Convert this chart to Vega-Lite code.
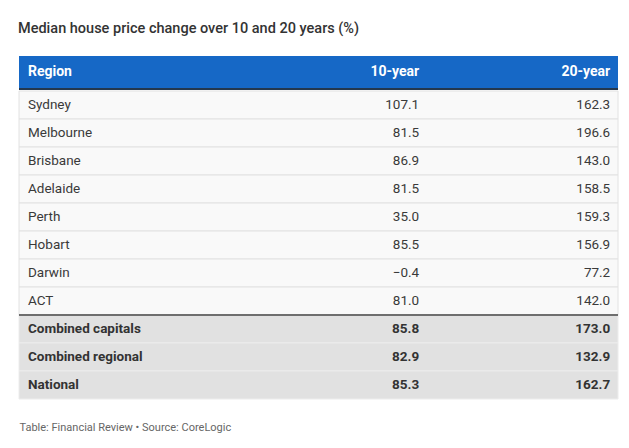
{
  "$schema": "https://vega.github.io/schema/vega-lite/v6.json",
  "padding": {"left": 18, "right": 12, "top": 20, "bottom": 10},
  "background": "white",
  "title": {"text": "Median house price change over 10 and 20 years (%)", "anchor": "start", "font": "Roboto", "fontSize": 14.5, "fontWeight": 500, "color": "#333333", "offset": 20},
  "config": {"view": {"stroke": null}, "font": "Roboto"},
  "spacing": 0,
  "vconcat": [
    {
      "width": 599,
      "height": 34,
      "data": {"values": [{"h1": "Region", "h2": "10-year", "h3": "20-year"}]},
      "layer": [
        {"mark": {"type": "rect", "color": "#1668c6"}, "encoding": {"x": {"datum": 0, "type": "quantitative", "scale": {"domain": [0, 1]}, "axis": null}, "x2": {"datum": 1}, "y": {"datum": 0.06, "type": "quantitative", "scale": {"domain": [0, 1]}, "axis": null}, "y2": {"datum": 1}}},
        {"mark": {"type": "rect", "color": "#24384e"}, "encoding": {"x": {"datum": 0, "type": "quantitative"}, "x2": {"datum": 1}, "y": {"datum": 0, "type": "quantitative"}, "y2": {"datum": 0.06}}},
        {"mark": {"type": "text", "align": "left", "baseline": "middle", "color": "white", "fontWeight": "bold", "fontSize": 14}, "encoding": {"x": {"datum": 0.015, "type": "quantitative"}, "y": {"datum": 0.53, "type": "quantitative"}, "text": {"field": "h1"}}},
        {"mark": {"type": "text", "align": "right", "baseline": "middle", "color": "white", "fontWeight": "bold", "fontSize": 14}, "encoding": {"x": {"datum": 0.668, "type": "quantitative"}, "y": {"datum": 0.53, "type": "quantitative"}, "text": {"field": "h2"}}},
        {"mark": {"type": "text", "align": "right", "baseline": "middle", "color": "white", "fontWeight": "bold", "fontSize": 14}, "encoding": {"x": {"datum": 0.987, "type": "quantitative"}, "y": {"datum": 0.53, "type": "quantitative"}, "text": {"field": "h3"}}}
      ]
    },
    {
      "width": 599,
      "height": 308,
      "data": {"values": [
        {"region": "Sydney", "ten": 107.1, "twenty": 162.3, "kind": "city"},
        {"region": "Melbourne", "ten": 81.5, "twenty": 196.6, "kind": "city"},
        {"region": "Brisbane", "ten": 86.9, "twenty": 143.0, "kind": "city"},
        {"region": "Adelaide", "ten": 81.5, "twenty": 158.5, "kind": "city"},
        {"region": "Perth", "ten": 35.0, "twenty": 159.3, "kind": "city"},
        {"region": "Hobart", "ten": 85.5, "twenty": 156.9, "kind": "city"},
        {"region": "Darwin", "ten": -0.4, "twenty": 77.2, "kind": "city"},
        {"region": "ACT", "ten": 81.0, "twenty": 142.0, "kind": "city"},
        {"region": "Combined capitals", "ten": 85.8, "twenty": 173.0, "kind": "summary"},
        {"region": "Combined regional", "ten": 82.9, "twenty": 132.9, "kind": "summary"},
        {"region": "National", "ten": 85.3, "twenty": 162.7, "kind": "summary"}
      ]},
      "encoding": {
        "y": {"field": "region", "type": "nominal", "sort": null, "scale": {"paddingInner": 0, "paddingOuter": 0}, "axis": null}
      },
      "layer": [
        {"mark": {"type": "rect", "strokeWidth": 1}, "encoding": {
          "x": {"datum": 0, "type": "quantitative", "scale": {"domain": [0, 1]}, "axis": {"title": "Table: Financial Review • Source: CoreLogic", "labels": false, "ticks": false, "domain": false, "grid": false, "titleAnchor": "start", "titleAlign": "left", "titleFontSize": 11, "titleFontWeight": "normal", "titleColor": "#666666", "titlePadding": 22, "titleFont": "Roboto"}},
          "x2": {"datum": 1},
          "color": {"field": "kind", "type": "nominal", "scale": {"domain": ["city", "summary"], "range": ["#f9f9f9", "#e1e1e1"]}, "legend": null},
          "stroke": {"field": "kind", "type": "nominal", "scale": {"domain": ["city", "summary"], "range": ["#e2e2e2", "#ececec"]}, "legend": null}
        }},
        {"transform": [{"filter": "datum.region === 'Combined capitals'"}],
         "mark": {"type": "rule", "color": "#6e6e6e", "strokeWidth": 2},
         "encoding": {"x": {"datum": 0, "type": "quantitative"}, "x2": {"datum": 1}, "y": {"field": "region", "type": "nominal", "sort": null, "bandPosition": 0}}},
        {"transform": [{"filter": "datum.kind === 'city'"}],
         "mark": {"type": "text", "align": "left", "baseline": "middle", "color": "#3a3a3a", "fontSize": 13.5},
         "encoding": {"x": {"datum": 0.015, "type": "quantitative"}, "text": {"field": "region"}}},
        {"transform": [{"filter": "datum.kind === 'city'"}],
         "mark": {"type": "text", "align": "right", "baseline": "middle", "color": "#3a3a3a", "fontSize": 13.5},
         "encoding": {"x": {"datum": 0.668, "type": "quantitative"}, "text": {"field": "ten", "type": "quantitative", "format": ".1f"}}},
        {"transform": [{"filter": "datum.kind === 'city'"}],
         "mark": {"type": "text", "align": "right", "baseline": "middle", "color": "#3a3a3a", "fontSize": 13.5},
         "encoding": {"x": {"datum": 0.987, "type": "quantitative"}, "text": {"field": "twenty", "type": "quantitative", "format": ".1f"}}},
        {"transform": [{"filter": "datum.kind === 'summary'"}],
         "mark": {"type": "text", "align": "left", "baseline": "middle", "color": "#333333", "fontSize": 13.5, "fontWeight": "bold"},
         "encoding": {"x": {"datum": 0.015, "type": "quantitative"}, "text": {"field": "region"}}},
        {"transform": [{"filter": "datum.kind === 'summary'"}],
         "mark": {"type": "text", "align": "right", "baseline": "middle", "color": "#333333", "fontSize": 13.5, "fontWeight": "bold"},
         "encoding": {"x": {"datum": 0.668, "type": "quantitative"}, "text": {"field": "ten", "type": "quantitative", "format": ".1f"}}},
        {"transform": [{"filter": "datum.kind === 'summary'"}],
         "mark": {"type": "text", "align": "right", "baseline": "middle", "color": "#333333", "fontSize": 13.5, "fontWeight": "bold"},
         "encoding": {"x": {"datum": 0.987, "type": "quantitative"}, "text": {"field": "twenty", "type": "quantitative", "format": ".1f"}}}
      ]
    }
  ]
}
